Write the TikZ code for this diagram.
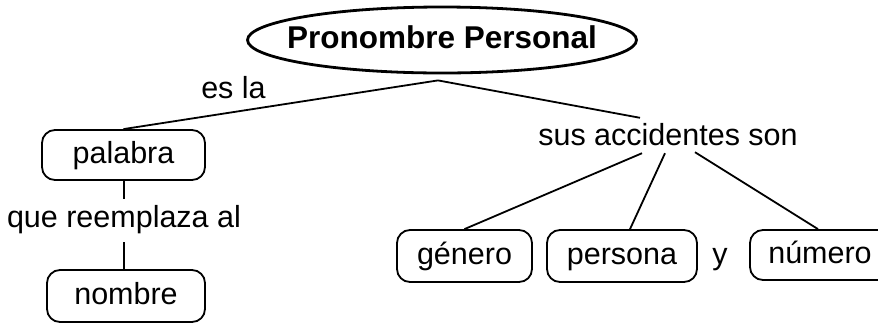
\documentclass[tikz,border=0pt]{standalone}
\usepackage{fontspec}
\setmainfont{Liberation Sans}
\usetikzlibrary{shapes.geometric}
\begin{document}
\begin{tikzpicture}[x=1pt,y=-1pt,
  every node/.style={font=\fontsize{30.5}{36}\selectfont, text height=22pt, text depth=6pt, inner sep=0pt},
  box/.style={draw, line width=1.8pt, rounded corners=13pt},
  link/.style={draw, line width=1.8pt},
  titleshape/.style={ellipse, draw, line width=2.8pt, minimum width=389pt, minimum height=66pt},
  titletext/.style={font=\fontsize{31.5}{36}\selectfont\bfseries},
]
\useasboundingbox (0,0) rectangle (878,325);
% title
\node[titleshape] (pp) at (442,40) {};
\node[titletext] (ppt) at (pp.center) {Pronombre Personal};
% left branch
\node (esla) at (233.5,90) {es la};
\node[box, minimum width=163pt, minimum height=50pt] (palabra) at (123.5,155) {palabra};
\node (que) at (124,219) {que reemplaza al};
\node[box, minimum width=158pt, minimum height=52pt] (nombre) at (126,296) {nombre};
% right branch
\node (acc) at (668,137) {sus accidentes son};
\node[box, minimum width=135pt, minimum height=52pt] (genero) at (464.5,256) {género};
\node[box, minimum width=150pt, minimum height=52pt] (persona) at (622,256) {persona};
\node (y) at (720,256) {y};
\node[box, minimum width=150pt, minimum height=50pt] (numero) at (825,255) {\hspace{-10pt}número};
% connectors
\coordinate (apex) at ([shift={(-4,6)}]pp.south);
\draw[link] (apex) -- (palabra.north);
\draw[link] (apex) -- ([shift={(-28,-5)}]acc.north);
\draw[link] ([xshift=0.5pt]palabra.south) -- ([shift={(0,-6)}]que.north);
\draw[link] ([shift={(0,9)}]que.south) -- ([xshift=-2pt]nombre.north);
\draw[link] ([shift={(-26,2)}]acc.south) -- (genero.north);
\draw[link] ([shift={(-3,2)}]acc.south) -- ([xshift=8pt]persona.north);
\draw[link] ([shift={(27,1)}]acc.south) -- ([xshift=-7pt]numero.north);
\end{tikzpicture}
\end{document}
